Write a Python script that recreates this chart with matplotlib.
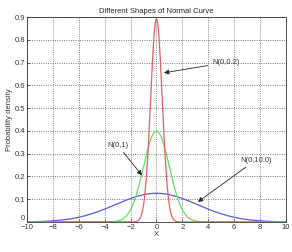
import numpy as np
import matplotlib
matplotlib.use("Agg")
import matplotlib.pyplot as plt

plt.rcParams['font.family'] = ['Liberation Sans', 'DejaVu Sans']

# Curve parameters (mean, variance)
labels = ["N(0,10.0)", "N(0,1)", "N(0,0.2)"]
means = [0.0, 0.0, 0.0]
variances = [10.0, 1.0, 0.2]
colors = ["#5a5ae0", "#66dd66", "#e06060"]
x_ranges = [(-10, 10), (-10, 10), (-8.5, 8.5)]

xticks = [-10, -8, -6, -4, -2, 0, 2, 4, 6, 8, 10]
yticks = [0, 0.1, 0.2, 0.3, 0.4, 0.5, 0.6, 0.7, 0.8, 0.9]
yticklabels = ["0", "0.1", "0.2", "0.3", "0.4", "0.5", "0.6", "0.7", "0.8", "0.9"]

# annotation text positions and arrow targets (data coords)
ann_text = {"N(0,0.2)": (4.3, 0.70), "N(0,1)": (-3.0, 0.338), "N(0,10.0)": (6.45, 0.272)}
ann_tip = {"N(0,0.2)": (0.58, 0.655), "N(0,1)": (-1.12, 0.205), "N(0,10.0)": (3.2, 0.088)}

fig = plt.figure(figsize=(2.92, 2.52), dpi=100)
ax = fig.add_axes([0.0925, 0.119, 0.8865, 0.8135])

for m, v, c, (a, b) in zip(means, variances, colors, x_ranges):
    x = np.arange(a, b + 1e-9, 0.05)
    y = np.exp(-(x - m) ** 2 / (2 * v)) / np.sqrt(2 * np.pi * v)
    ax.plot(x, y, color=c, lw=0.9)

ax.set_xlim(-10, 10)
ax.set_ylim(0, 0.9)
ax.set_xticks(xticks)
ax.set_yticks(yticks)
ax.set_yticklabels(yticklabels)
ax.tick_params(direction='in', labelsize=5.5, length=2, width=0.5, pad=1.5, colors='#333333')
ax.get_yticklabels()[0].set_va('bottom')
ax.grid(True, linestyle=(0, (1.2, 1.8)), color='#555555', lw=0.55)
for s in ax.spines.values():
    s.set_linewidth(0.6)
    s.set_color('#333333')

ax.set_title("Different Shapes of Normal Curve", fontsize=5.5, pad=3, color='#222222')
ax.set_xlabel("X", fontsize=5.5, labelpad=0, color='#333333')
ax.set_ylabel("Probability density", fontsize=5.5, labelpad=1, color='#333333')

for lab in labels:
    tx, ty = ann_text[lab]
    hx, hy = ann_tip[lab]
    ha = 'left' if lab != "N(0,1)" else 'center'
    ax.annotate(lab, xy=(hx, hy), xytext=(tx, ty), fontsize=5.5, color='#333333',
                ha=ha, va='center',
                arrowprops=dict(arrowstyle='-|>', color='#222222', lw=0.6,
                                mutation_scale=7, shrinkA=1, shrinkB=0))

fig.savefig("out.png", dpi=100)
